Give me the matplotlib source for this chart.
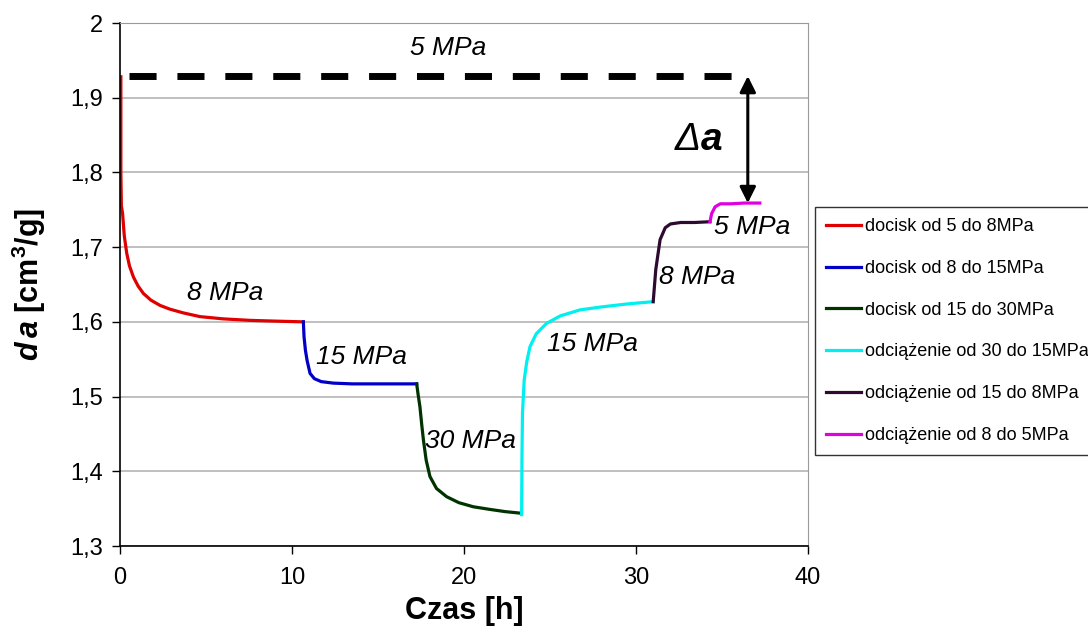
import numpy as np
import matplotlib.pyplot as plt

plt.rcParams['font.family'] = ['Liberation Sans', 'DejaVu Sans']
plt.rcParams['mathtext.fontset'] = 'custom'
plt.rcParams['mathtext.rm'] = 'Liberation Sans:bold'
plt.rcParams['mathtext.it'] = 'Liberation Sans:italic:bold'
plt.rcParams['mathtext.bf'] = 'Liberation Sans:bold'

# values (time [h], da [cm3/g])
t_red = [0.05, 0.05, 0.08, 0.15, 0.25, 0.39, 0.55, 0.78, 1.05, 1.36, 1.8, 2.33, 2.9, 3.68, 4.65, 6.0, 7.56, 9.0, 10.66]
a_red = [1.928, 1.80, 1.755, 1.745, 1.715, 1.692, 1.675, 1.660, 1.648, 1.638, 1.629, 1.622, 1.617, 1.612, 1.607, 1.604, 1.602, 1.601, 1.600]

t_blue = [10.66, 10.70, 10.78, 10.88, 11.05, 11.3, 11.7, 12.4, 13.5, 15.0, 17.25]
a_blue = [1.600, 1.580, 1.562, 1.548, 1.531, 1.524, 1.520, 1.518, 1.517, 1.517, 1.517]

t_green = [17.25, 17.33, 17.44, 17.54, 17.64, 17.8, 18.02, 18.4, 18.99, 19.7, 20.54, 21.5, 22.4, 23.26]
a_green = [1.517, 1.503, 1.486, 1.463, 1.442, 1.415, 1.393, 1.377, 1.366, 1.358, 1.3525, 1.349, 1.346, 1.344]

t_cyan = [23.35, 23.37, 23.40, 23.50, 23.65, 23.84, 24.2, 24.8, 25.6, 26.74, 28.0, 29.5, 31.0]
a_cyan = [1.342, 1.42, 1.478, 1.522, 1.547, 1.567, 1.584, 1.598, 1.608, 1.616, 1.620, 1.624, 1.627]

t_purple = [31.0, 31.15, 31.4, 31.7, 32.0, 32.6, 33.4, 34.3]
a_purple = [1.627, 1.670, 1.710, 1.726, 1.731, 1.733, 1.733, 1.734]

t_magenta = [34.3, 34.4, 34.6, 34.9, 35.5, 36.3, 37.2]
a_magenta = [1.734, 1.745, 1.754, 1.758, 1.758, 1.759, 1.759]

series = [
    (t_red, a_red, '#e00000', 'docisk od 5 do 8MPa'),
    (t_blue, a_blue, '#0000c8', 'docisk od 8 do 15MPa'),
    (t_green, a_green, '#003300', 'docisk od 15 do 30MPa'),
    (t_cyan, a_cyan, '#00f0f0', 'odciążenie od 30 do 15MPa'),
    (t_purple, a_purple, '#2e0a30', 'odciążenie od 15 do 8MPa'),
    (t_magenta, a_magenta, '#e000e0', 'odciążenie od 8 do 5MPa'),
]

ref_level = 1.929
ref_x = [0.5, 35.6]
arrow_x = 36.5

labels = [
    (19.1, 1.967, '5 MPa'),
    (6.1, 1.639, '8 MPa'),
    (14.05, 1.553, '15 MPa'),
    (20.4, 1.440, '30 MPa'),
    (27.45, 1.571, '15 MPa'),
    (33.55, 1.660, '8 MPa'),
    (36.75, 1.727, '5 MPa'),
]

fig = plt.figure(figsize=(10.88, 6.30), dpi=100)
ax = fig.add_axes([120/1088, 1 - 546/630, (808 - 120)/1088, (546 - 23)/630])

for t, a, c, lab in series:
    ax.plot(t, a, color=c, lw=2.3, label=lab, solid_joinstyle='round')

ax.plot(ref_x, [ref_level, ref_level], color='black', lw=5, dashes=(3.9, 3.0))
ax.annotate('', xy=(arrow_x, ref_level), xytext=(arrow_x, a_magenta[-1]),
            arrowprops=dict(arrowstyle='<|-|>', color='black', lw=2.2,
                            mutation_scale=24, shrinkA=0, shrinkB=0))
ax.text(33.75, 1.843, 'Δ', fontsize=28, fontstyle='italic',
        ha='right', va='center')
ax.text(33.75, 1.843, 'a', fontsize=28, fontstyle='italic', fontweight='bold',
        ha='left', va='center')

for x, y, s in labels:
    ax.text(x, y, s, fontsize=19, fontstyle='italic', ha='center', va='center')

ax.set_xlim(0, 40)
ax.set_ylim(1.3, 2.0)
ax.set_xticks([0, 10, 20, 30, 40])
ax.set_yticks(np.arange(1.3, 2.01, 0.1))
ax.set_yticklabels(['1,3', '1,4', '1,5', '1,6', '1,7', '1,8', '1,9', '2'])
ax.tick_params(labelsize=17, length=6, width=1, direction='out')
ax.tick_params(axis='y', pad=6)
ax.tick_params(axis='x', pad=9)
ax.yaxis.grid(True, color='#b4b4b4', lw=1.2)
ax.set_axisbelow(True)
for s in ['top', 'right']:
    ax.spines[s].set_color('#9a9a9a')
for s in ['left', 'bottom']:
    ax.spines[s].set_linewidth(1.2)

ax.set_xlabel('Czas [h]', fontsize=22, fontweight='bold', labelpad=5)
ax.set_ylabel(r'$d\,a$ [cm$^{3}$/g]', fontsize=22, fontweight='bold', labelpad=16)

leg = fig.legend(loc='center left', bbox_to_anchor=(815/1088, 1 - 331/630),
                 fontsize=13, frameon=True, fancybox=False, edgecolor='black',
                 labelspacing=1.37, handlelength=1.95, handletextpad=0.2,
                 borderpad=0.6, borderaxespad=0)
leg.get_frame().set_linewidth(1.0)

fig.savefig('out.png', dpi=100)
